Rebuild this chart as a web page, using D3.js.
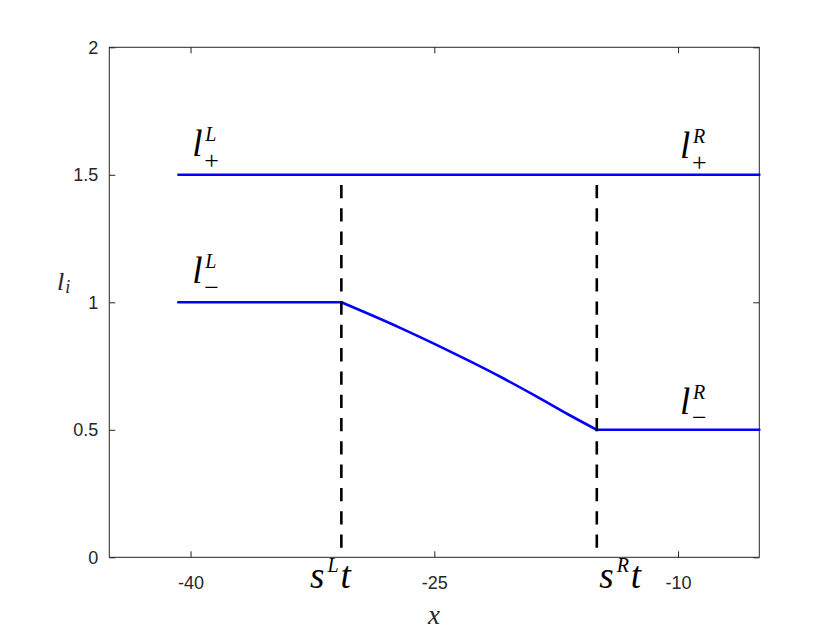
<!DOCTYPE html>
<html>
<head>
<meta charset="utf-8">
<script src="https://cdn.jsdelivr.net/npm/d3@7"></script>
<style>
  body { margin: 0; background: #fff; }
</style>
</head>
<body>
<div id="my_dataviz"></div>
<script>
// ticks
const xTicks = [-40, -25, -10];
const yTicks = [0, 0.5, 1, 1.5, 2];

// l_+ (constant) and l_- (flat, rarefaction between the two shocks, flat)
const upperX = [-40.75, -5];
const upperY = [1.5, 1.5];
const leftX = [-40.75, -30.72];
const leftY = [1, 1];
const fanX = [-30.72, -29.06, -27.0, -24.96, -22.91, -20.85, -18.8, -16.75, -15.0];
const fanY = [1, 0.955, 0.897, 0.836, 0.772, 0.705, 0.634, 0.56, 0.5];
const rightX = [-15.0, -5];
const rightY = [0.5, 0.5];

// dashed shock positions s^L t, s^R t
const shockX = [-30.72, -15.0];
const shockTop = 1.46;

// annotations: base, superscript, subscript, x, y
const labelBase = ["l", "l", "l", "l"];
const labelSup = ["L", "L", "R", "R"];
const labelSub = ["+", "\u2212", "+", "\u2212"];
const labelX = [-39.9, -39.9, -9.88, -9.88];
const labelY = [1.572, 1.075, 1.564, 0.563];

const shockLabelSup = ["L", "R"];
const shockLabelX = [-32.65, -14.85];
const shockLabelY = [-0.12, -0.12];

// set the dimensions and margins of the graph
const margin = { top: 47.3, right: 80.7, bottom: 72.7, left: 109.3 },
  width = 840 - margin.left - margin.right,
  height = 630 - margin.top - margin.bottom;

const root = d3.select("#my_dataviz")
  .append("svg")
  .attr("width", 840)
  .attr("height", 630);

root.append("rect").attr("width", 840).attr("height", 630).attr("fill", "#fff");

const svg = root.append("g")
  .attr("transform", `translate(${margin.left},${margin.top})`);

const x = d3.scaleLinear().domain([-45, -5]).range([0, width]);
const y = d3.scaleLinear().domain([0, 2]).range([height, 0]);

const axisColor = "#262626";
const tickFont = "Arial, 'Liberation Sans', sans-serif";
const mathFont = "'Liberation Serif', 'Times New Roman', serif";

// box
svg.append("rect")
  .attr("width", width)
  .attr("height", height)
  .attr("fill", "none")
  .attr("stroke", axisColor)
  .attr("stroke-width", 1);

function styleAxis(g) {
  g.select(".domain").remove();
  g.selectAll("line").attr("stroke", axisColor);
  g.selectAll("text")
    .attr("fill", axisColor)
    .style("font-family", tickFont)
    .style("font-size", "18px");
}

// X axis (bottom + top ticks)
svg.append("g")
  .attr("transform", `translate(0, ${height})`)
  .call(d3.axisBottom(x).tickValues(xTicks).tickFormat(d3.format("d"))
    .tickSizeInner(-6).tickSizeOuter(0).tickPadding(18.5))
  .call(styleAxis);
svg.append("g")
  .call(d3.axisTop(x).tickValues(xTicks).tickFormat("")
    .tickSizeInner(-6).tickSizeOuter(0))
  .call(styleAxis);

// Y axis (left + right ticks)
svg.append("g")
  .call(d3.axisLeft(y).tickValues(yTicks).tickFormat(d3.format("~g"))
    .tickSizeInner(-6).tickSizeOuter(0).tickPadding(11))
  .call(styleAxis);
svg.append("g")
  .attr("transform", `translate(${width}, 0)`)
  .call(d3.axisRight(y).tickValues(yTicks).tickFormat("")
    .tickSizeInner(-6).tickSizeOuter(0))
  .call(styleAxis);

// use hyphen minus like the reference
svg.selectAll(".tick text").text(function () {
  return d3.select(this).text().replace("\u2212", "-");
});

// lines
const line = d3.line().x((d) => x(d[0])).y((d) => y(d[1]));
const smooth = d3.line().x((d) => x(d[0])).y((d) => y(d[1])).curve(d3.curveMonotoneX);
const zip = (xs, ys) => xs.map((v, i) => [v, ys[i]]);

[[upperX, upperY, line], [leftX, leftY, line], [fanX, fanY, smooth], [rightX, rightY, line]]
  .forEach(([xs, ys, gen]) => {
    svg.append("path")
      .datum(zip(xs, ys))
      .attr("d", gen)
      .attr("fill", "none")
      .attr("stroke", "#0000ff")
      .attr("stroke-width", 2.6)
      .attr("stroke-linecap", "round");
  });

svg.selectAll(".shock")
  .data(shockX)
  .join("path")
  .attr("class", "shock")
  .attr("d", (d) => line([[d, shockTop], [d, 0]]))
  .attr("fill", "none")
  .attr("stroke", "#000")
  .attr("stroke-width", 2.6)
  .attr("stroke-dasharray", "13.3,10");

// l labels
labelBase.forEach((b, i) => {
  const px = x(labelX[i]), py = y(labelY[i]);
  const g = svg.append("g").style("font-family", mathFont).attr("fill", "#000");
  g.append("text").attr("x", px).attr("y", py)
    .style("font-size", "37px").style("font-style", "italic").text(b);
  g.append("text").attr("x", px + 13).attr("y", py - 15)
    .style("font-size", "20px").style("font-style", "italic").text(labelSup[i]);
  g.append("text").attr("x", px + 12).attr("y", py + 12.5)
    .style("font-size", "26px").text(labelSub[i]);
});

// s^L t, s^R t
shockLabelSup.forEach((s, i) => {
  const t = svg.append("text")
    .attr("x", x(shockLabelX[i]))
    .attr("y", y(shockLabelY[i]))
    .style("font-family", mathFont)
    .style("font-style", "italic")
    .style("font-size", "37px")
    .attr("fill", "#000");
  t.append("tspan").text("s");
  t.append("tspan").attr("dx", 3).attr("dy", -16).style("font-size", "20px").text(s);
  t.append("tspan").attr("dx", 2).attr("dy", 16).text("t");
});

// axis labels
root.append("text")
  .attr("x", 434)
  .attr("y", 624)
  .attr("text-anchor", "middle")
  .style("font-family", mathFont)
  .style("font-style", "italic")
  .style("font-size", "27px")
  .attr("fill", axisColor)
  .text("x");

const yl = root.append("text")
  .attr("x", 57)
  .attr("y", 290)
  .style("font-family", mathFont)
  .style("font-style", "italic")
  .style("font-size", "26px")
  .attr("fill", axisColor);
yl.append("tspan").text("l");
yl.append("tspan").attr("dx", 1).attr("dy", 3).style("font-size", "18px").text("i");
</script>
</body>
</html>
